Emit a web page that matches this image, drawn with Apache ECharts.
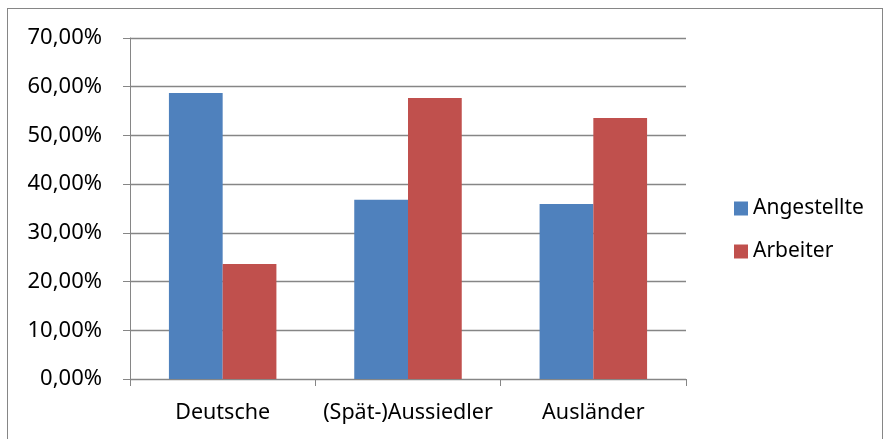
<!DOCTYPE html>
<html>
<head>
<meta charset="utf-8">
<script src="https://cdn.jsdelivr.net/npm/echarts@6/dist/echarts.min.js"></script>
<style>
  html, body { margin: 0; padding: 0; background: #fff; }
  .frame {
    position: absolute; left: 7px; top: 8px; width: 876px; height: 440px;
    border: 1px solid #868686; box-sizing: border-box;
  }
  #chart { position: absolute; left: 0; top: 0; width: 886px; height: 439px; }
</style>
</head>
<body>
<div class="frame"></div>
<div id="chart"></div>
<script>
// Werte (Prozent)
const categories = ['Deutsche', '(Spät-)Aussiedler', 'Ausländer'];
const angestellte = [58.7, 36.8, 35.9];
const arbeiter = [23.6, 57.7, 53.6];
const seriesNames = ['Angestellte', 'Arbeiter'];

const fmt = v => v.toFixed(2).replace('.', ',') + '%';
const axisGray = '#868686';
const font = 'Noto Sans';

const myChart = echarts.init(document.getElementById('chart'));
myChart.setOption({
  animation: false,
  textStyle: { fontFamily: font },
  grid: { left: 130, right: 200, top: 38, bottom: 60 },
  legend: {
    orient: 'vertical',
    left: 729,
    top: 193,
    icon: 'rect',
    itemWidth: 14,
    itemHeight: 14,
    itemGap: 22,
    data: seriesNames,
    textStyle: { fontFamily: font, fontSize: 21, color: '#000' }
  },
  xAxis: {
    type: 'category',
    data: categories,
    axisLine: { lineStyle: { color: axisGray } },
    axisTick: { show: true, length: 7, lineStyle: { color: axisGray } },
    axisLabel: { color: '#000', fontSize: 21.5, margin: 23, interval: 0, hideOverlap: false }
  },
  yAxis: {
    type: 'value',
    min: 0,
    max: 70,
    interval: 10,
    axisLine: { show: true, lineStyle: { color: axisGray } },
    axisTick: { show: true, length: 7, lineStyle: { color: axisGray } },
    axisLabel: { color: '#000', fontSize: 22, margin: 28, formatter: fmt },
    splitLine: { lineStyle: { color: axisGray, width: 1.3 } }
  },
  series: [
    {
      name: seriesNames[0],
      type: 'bar',
      data: angestellte,
      barGap: '0%',
      barCategoryGap: '42%',
      itemStyle: { color: '#4F81BD' }
    },
    {
      name: seriesNames[1],
      type: 'bar',
      data: arbeiter,
      itemStyle: { color: '#C0504D' }
    }
  ]
});
</script>
</body>
</html>
